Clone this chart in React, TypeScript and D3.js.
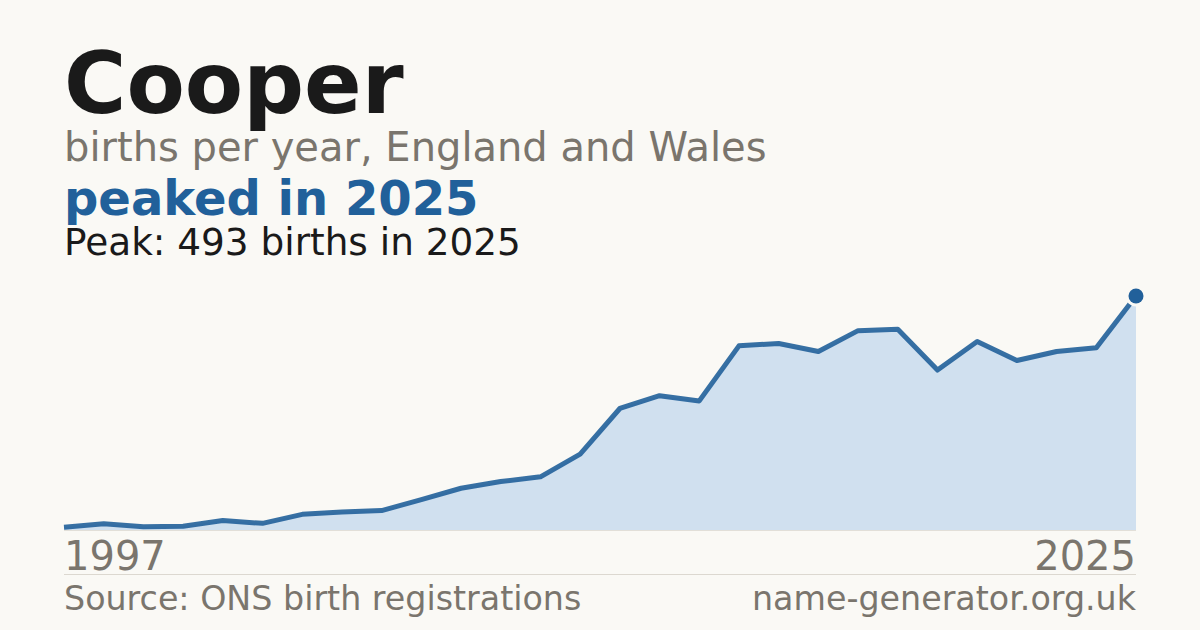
import React, { useRef, useEffect } from 'react'
import * as d3 from 'd3'

// one year has no entry, points sit evenly along the axis
const years = [
  1997, 1998, 1999, 2000, 2001, 2002, 2003, 2004, 2005, 2006, 2007, 2008, 2009, 2010,
  2011, 2012, 2013, 2014, 2015, 2016, 2017, 2018, 2019, 2021, 2022, 2023, 2024, 2025,
]
const births = [
  6, 13, 7, 8, 20, 14, 33, 38, 41, 64, 88, 102, 112, 160,
  256, 283, 272, 388, 393, 376, 420, 423, 337, 397, 357, 376, 384, 493,
]
const axisLabels = ['1997', '2025']

const W = 1200
const H = 630
const BG = '#faf9f5'
const BLUE = '#21609a'
const GREY = '#7a756d'

const Chart: React.FC = () => {
  const ref = useRef<SVGSVGElement>(null)

  useEffect(() => {
    const svg = d3.select(ref.current)
    svg.selectAll('*').remove()

    const x = d3
      .scalePoint<number>()
      .domain(years)
      .range([64, 1136])
    const y = d3
      .scaleLinear()
      .domain([0, d3.max(births) as number])
      .range([530, 296])

    const pts = years.map((yr, i) => ({ yr, v: births[i] }))

    svg.append('rect').attr('width', W).attr('height', H).attr('fill', BG)

    const font = "'DejaVu Sans', sans-serif"
    const txt = (s: string, tx: number, ty: number, size: number, fill: string, weight = 'normal', anchor = 'start') =>
      svg
        .append('text')
        .attr('x', tx)
        .attr('y', ty)
        .attr('font-family', font)
        .attr('font-size', size)
        .attr('font-weight', weight)
        .attr('fill', fill)
        .attr('text-anchor', anchor)
        .text(s)

    txt('Cooper', 64, 113, 85, '#1a1a1a', 'bold')
    txt('births per year, England and Wales', 64, 161, 40, GREY)
    txt('peaked in 2025', 64, 215, 48, BLUE, 'bold')
    txt('Peak: 493 births in 2025', 64, 255, 37.4, '#1a1a1a')

    const area = d3
      .area<{ yr: number; v: number }>()
      .x(d => x(d.yr) as number)
      .y0(y(0))
      .y1(d => y(d.v))
    const line = d3
      .line<{ yr: number; v: number }>()
      .x(d => x(d.yr) as number)
      .y(d => y(d.v))

    svg.append('path').datum(pts).attr('d', area).attr('fill', '#d0e0ef')

    // baseline
    svg
      .append('line')
      .attr('x1', 64)
      .attr('x2', 1136)
      .attr('y1', y(0) + 0.5)
      .attr('y2', y(0) + 0.5)
      .attr('stroke', '#e2dfd8')
      .attr('stroke-width', 1)

    svg
      .append('path')
      .datum(pts)
      .attr('d', line)
      .attr('fill', 'none')
      .attr('stroke', BLUE)
      .attr('stroke-width', 5)
      .attr('stroke-opacity', 0.9)
      .attr('stroke-linejoin', 'round')

    const last = pts[pts.length - 1]
    svg
      .append('circle')
      .attr('cx', x(last.yr) as number)
      .attr('cy', y(last.v))
      .attr('r', 7.5)
      .attr('fill', BLUE)
      .attr('stroke', BG)
      .attr('stroke-width', 6)
      .attr('paint-order', 'stroke')

    txt(axisLabels[0], 64, 570, 40, GREY)
    txt(axisLabels[1], 1136, 570, 40, GREY, 'normal', 'end')

    svg
      .append('line')
      .attr('x1', 64)
      .attr('x2', 1136)
      .attr('y1', 574.5)
      .attr('y2', 574.5)
      .attr('stroke', '#dcd8d0')
      .attr('stroke-width', 1)

    txt('Source: ONS birth registrations', 64, 610, 33.3, GREY)
    txt('name-generator.org.uk', 1136, 610, 33.3, GREY, 'normal', 'end')
  }, [])

  return (
    <svg
      ref={ref}
      width={W}
      height={H}
      style={{ position: 'absolute', left: 0, top: 0, display: 'block' }}
    />
  )
}

const App: React.FC = () => <Chart />

export default App
